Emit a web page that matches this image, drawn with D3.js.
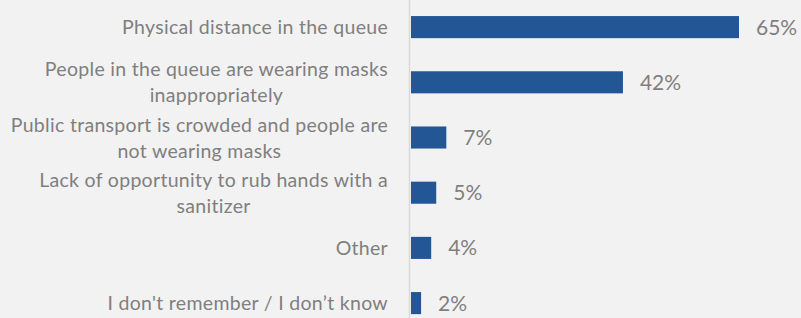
<!DOCTYPE html>
<html>
<head>
<meta charset="utf-8">
<script src="https://cdn.jsdelivr.net/npm/d3@7"></script>
<style>
  body { margin: 0; background: #f2f2f2; }
  svg { display: block; }
</style>
</head>
<body>
<div id="chart"></div>
<script>
// categories (each entry = lines of the label)
var categories = [
  ["Physical distance in the queue"],
  ["People in the queue are wearing masks", "inappropriately"],
  ["Public transport is crowded and people are", "not wearing masks"],
  ["Lack of opportunity to rub hands with a", "sanitizer"],
  ["Other"],
  ["I don't remember / I don\u2019t know"]
];
var values = [65, 42, 7, 5, 4, 2];
var valueLabels = ["65%", "42%", "7%", "5%", "4%", "2%"];

var width = 801, height = 318;
var fontFam = "Lato, 'Open Sans', sans-serif";

var svg = d3.select('#chart').append('svg')
  .attr('width', width)
  .attr('height', height);

svg.append('rect')
  .attr('width', width).attr('height', height)
  .attr('fill', '#f2f2f2');

var keys = categories.map(function(c, i) { return 'c' + i; });

var x = d3.scaleLinear().domain([0, 65]).range([411, 739]);
var y = d3.scaleBand().domain(keys).range([-0.5, 330.7])
  .paddingInner(0.6).paddingOuter(0.3);

// axis line
svg.append('line')
  .attr('x1', 409.5).attr('x2', 409.5)
  .attr('y1', 0).attr('y2', height)
  .attr('stroke', '#d9d9d9').attr('stroke-width', 1.5);

// bars
svg.selectAll('rect.bar')
  .data(values)
  .enter().append('rect')
  .attr('class', 'bar')
  .attr('x', x(0))
  .attr('y', function(d, i) { return y(keys[i]); })
  .attr('width', function(d) { return x(d) - x(0); })
  .attr('height', y.bandwidth())
  .attr('fill', '#235694');

// value labels
svg.selectAll('text.val')
  .data(values)
  .enter().append('text')
  .attr('class', 'val')
  .attr('x', function(d) { return x(d) + 17; })
  .attr('y', function(d, i) { return y(keys[i]) + y.bandwidth() / 2; })
  .attr('dy', '0.36em')
  .attr('font-family', fontFam)
  .attr('font-size', 21)
  .attr('fill', '#7f7f7f')
  .text(function(d, i) { return valueLabels[i]; });

// category labels - block right aligned, lines centered
var labelRight = 388;
var lineH = 26;
categories.forEach(function(lines, i) {
  var cy = y(keys[i]) + y.bandwidth() / 2;
  var g = svg.append('g');
  var texts = lines.map(function(line, j) {
    return g.append('text')
      .attr('y', cy + (j - (lines.length - 1) / 2) * lineH)
      .attr('dy', '0.36em')
      .attr('font-family', fontFam)
      .attr('font-size', 19.5)
      .attr('letter-spacing', 0.3)
      .attr('fill', '#7f7f7f')
      .attr('text-anchor', 'middle')
      .text(line);
  });
  var maxW = d3.max(texts, function(t) { return t.node().getComputedTextLength(); });
  texts.forEach(function(t) { t.attr('x', labelRight - maxW / 2); });
});
</script>
</body>
</html>
